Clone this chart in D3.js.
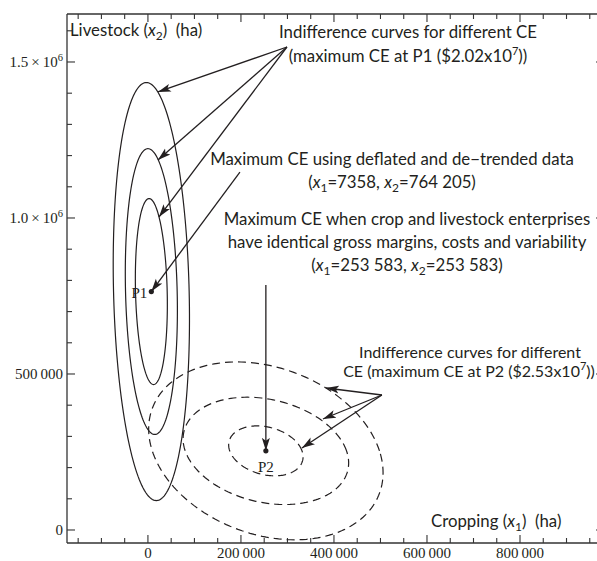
<!DOCTYPE html>
<html>
<head>
<meta charset="utf-8">
<style>
  body { margin: 0; background: #fff; }
  .ann { font-family: Lato, "Noto Sans", sans-serif; font-size: 16.8px; fill: #231f20; white-space: pre; }
  .tick-label { font-family: "Liberation Serif", "DejaVu Serif", serif; font-size: 15px; fill: #231f20; }
</style>
</head>
<body>
<script src="https://cdn.jsdelivr.net/npm/d3@7"></script>
<script>
var width = 597, height = 561;

// axis ticks
var xMajor = [0, 200000, 400000, 600000, 800000];
var xMajorLabels = ["0", "200\u2009000", "400\u2009000", "600\u2009000", "800\u2009000"];
var xMinor = d3.range(-150000, 980000, 50000);
var yMajor = [0, 500000, 1000000, 1500000];
var yMajorLabels = [["0"], ["500\u2009000"], ["1.0\u2009\u00d7\u200910", "6"], ["1.5\u2009\u00d7\u200910", "6"]];
var yMinor = d3.range(0, 1700000, 100000);

// optimum points (x1, x2)
var p1 = [7358, 764205];
var p2 = [253583, 253583];

// indifference curves around P1 (solid) and P2 (dashed): half width, half height, x-shift of top point
var solidHalfWidth = [82000, 56000, 34400];
var solidHalfHeight = [670000, 458000, 298000];
var solidTopShift = [-10700, -7300, -4800];
var dashedHalfWidth = [80000, 178000, 252000];
var dashedHalfHeight = [80000, 172000, 285000];
var dashedTopShift = [-19000, -40000, -62000];

// arrows [fromX1, fromX2, toX1, toX2]
var arrowsP1Curves = [
  [298900, 1548000, 21500, 1404000],
  [298900, 1548000, 21500, 1186000],
  [298900, 1548000, 23600, 1003000]
];
var arrowP1 = [197800, 1147000, p1[0], p1[1]];
var arrowP2 = [253583, 785000, p2[0], p2[1]];
var arrowsP2Curves = [
  [503100, 432700, 382700, 455100],
  [503100, 432700, 376300, 355800],
  [503100, 432700, 331100, 262800]
];

var x = d3.scaleLinear().domain([-174000, 980600]).range([67, 604]);
var y = d3.scaleLinear().domain([-41700, 1653800]).range([543, 14]);

var svg = d3.select("body").append("svg")
    .attr("width", width)
    .attr("height", height);

var defs = svg.append("defs");
defs.append("marker")
    .attr("id", "head")
    .attr("viewBox", "0 -5 14 10")
    .attr("refX", 13).attr("refY", 0)
    .attr("markerWidth", 14).attr("markerHeight", 10)
    .attr("markerUnits", "userSpaceOnUse")
    .attr("orient", "auto")
  .append("path")
    .attr("d", "M0,-4L13,0L0,4L3,0Z")
    .attr("fill", "#231f20");

// frame lines
var axisColor = "#333";
var x0 = x.range()[0], x1 = x.range()[1], yb = y.range()[0], yt = y.range()[1];
[[x0, yb, x1, yb], [x0, yt, x1, yt], [x0, yb, x0, yt], [x1, yb, x1, yt]].forEach(function(s) {
  svg.append("line").attr("x1", s[0]).attr("y1", s[1]).attr("x2", s[2]).attr("y2", s[3])
      .attr("stroke", axisColor).attr("stroke-width", 1.3);
});

// ticks: inward on all four sides
var ticks = svg.append("g").attr("stroke", axisColor).attr("stroke-width", 1.1);
xMinor.forEach(function(v) {
  var len = xMajor.indexOf(v) >= 0 ? 8 : 5;
  ticks.append("line").attr("x1", x(v)).attr("x2", x(v)).attr("y1", yb).attr("y2", yb - len);
  ticks.append("line").attr("x1", x(v)).attr("x2", x(v)).attr("y1", yt).attr("y2", yt + len);
});
yMinor.forEach(function(v) {
  var len = yMajor.indexOf(v) >= 0 ? 8 : 5;
  ticks.append("line").attr("x1", x0).attr("x2", x0 + len).attr("y1", y(v)).attr("y2", y(v));
  ticks.append("line").attr("x1", x1).attr("x2", x1 - len).attr("y1", y(v)).attr("y2", y(v));
});

// tick labels
svg.selectAll(".xl").data(xMajor).enter().append("text")
    .attr("class", "tick-label")
    .attr("x", function(d) { return x(d); })
    .attr("y", yb + 15)
    .attr("text-anchor", "middle")
    .text(function(d, i) { return xMajorLabels[i]; });

yMajor.forEach(function(v, i) {
  var t = svg.append("text").attr("class", "tick-label")
      .attr("x", x0 - 4)
      .attr("y", y(v) + 5)
      .attr("text-anchor", "end");
  t.append("tspan").text(yMajorLabels[i][0]);
  if (yMajorLabels[i][1]) {
    t.append("tspan").attr("dy", -6).attr("font-size", 10.5).text(yMajorLabels[i][1]);
  }
});

// curves
function ellipse(c, hw, hh, shift) {
  return d3.range(0, 361, 2).map(function(deg) {
    var t = deg * Math.PI / 180;
    return [c[0] + shift * Math.sin(t) + Math.sqrt(hw * hw - shift * shift) * Math.cos(t),
            c[1] + hh * Math.sin(t)];
  });
}
var line = d3.line().x(function(d) { return x(d[0]); }).y(function(d) { return y(d[1]); }).curve(d3.curveLinearClosed);

solidHalfWidth.forEach(function(hw, i) {
  svg.append("path")
      .attr("d", line(ellipse(p1, hw, solidHalfHeight[i], solidTopShift[i])))
      .attr("fill", "none").attr("stroke", "#231f20").attr("stroke-width", 1.2);
});
dashedHalfWidth.forEach(function(hw, i) {
  svg.append("path")
      .attr("d", line(ellipse(p2, hw, dashedHalfHeight[i], dashedTopShift[i])))
      .attr("fill", "none").attr("stroke", "#231f20").attr("stroke-width", 1.2)
      .attr("stroke-dasharray", "8,5");
});

// points
[p1, p2].forEach(function(p) {
  svg.append("circle").attr("cx", x(p[0])).attr("cy", y(p[1])).attr("r", 2.6).attr("fill", "#231f20");
});
svg.append("text").attr("class", "tick-label").attr("x", x(p1[0]) - 4).attr("y", y(p1[1]) + 6)
    .attr("text-anchor", "end").text("P1");
svg.append("text").attr("class", "tick-label").attr("x", x(p2[0])).attr("y", y(p2[1]) + 21)
    .attr("text-anchor", "middle").text("P2");

// arrows
var arrows = arrowsP1Curves.concat([arrowP1, arrowP2]).concat(arrowsP2Curves);
svg.selectAll(".arrow").data(arrows).enter().append("line")
    .attr("x1", function(d) { return x(d[0]); })
    .attr("y1", function(d) { return y(d[1]); })
    .attr("x2", function(d) { return x(d[2]); })
    .attr("y2", function(d) { return y(d[3]); })
    .attr("stroke", "#231f20").attr("stroke-width", 1.3)
    .attr("marker-end", "url(#head)");

// annotations
function ann(xPos, yPos, anchor, parts, size) {
  var t = svg.append("text").attr("class", "ann").attr("x", xPos).attr("y", yPos).attr("text-anchor", anchor);
  if (size) t.style("font-size", size + "px");
  parts.forEach(function(p) {
    var s = t.append("tspan").text(p.t);
    if (p.i) s.attr("font-style", "italic");
    if (p.sub) s.attr("font-size", 12).attr("dy", 4);
    if (p.sup) s.attr("font-size", 11).attr("dy", -7);
    if (p.back) s.attr("dy", p.back);
  });
}
ann(70, 36, "start", [{t: "Livestock ("}, {t: "x", i: 1}, {t: "2", sub: 1}, {t: ")  (ha)", back: -4}]);
ann(431, 527, "start", [{t: "Cropping ("}, {t: "x", i: 1}, {t: "1", sub: 1}, {t: ")  (ha)", back: -4}]);

ann(408, 38, "middle", [{t: "Indifference curves for different CE"}]);
ann(408, 62, "middle", [{t: "(maximum CE at P1 ($2.02x10"}, {t: "7", sup: 1}, {t: "))", back: 7}]);

ann(392, 165, "middle", [{t: "Maximum CE using deflated and de\u2212trended data"}]);
ann(392, 188, "middle", [{t: "("}, {t: "x", i: 1}, {t: "1", sub: 1}, {t: "=7358, ", back: -4}, {t: "x", i: 1}, {t: "2", sub: 1}, {t: "=764 205)", back: -4}]);

ann(407, 225, "middle", [{t: "Maximum CE when crop and livestock enterprises"}]);
ann(407, 248, "middle", [{t: "have identical gross margins, costs and variability"}]);
ann(407, 271, "middle", [{t: "("}, {t: "x", i: 1}, {t: "1", sub: 1}, {t: "=253 583, ", back: -4}, {t: "x", i: 1}, {t: "2", sub: 1}, {t: "=253 583)", back: -4}]);

ann(470, 358, "middle", [{t: "Indifference curves for different"}], 16);
ann(469, 377, "middle", [{t: "CE (maximum CE at P2 ($2.53x10"}, {t: "7", sup: 1}, {t: "))", back: 7}], 16);
</script>
</body>
</html>
